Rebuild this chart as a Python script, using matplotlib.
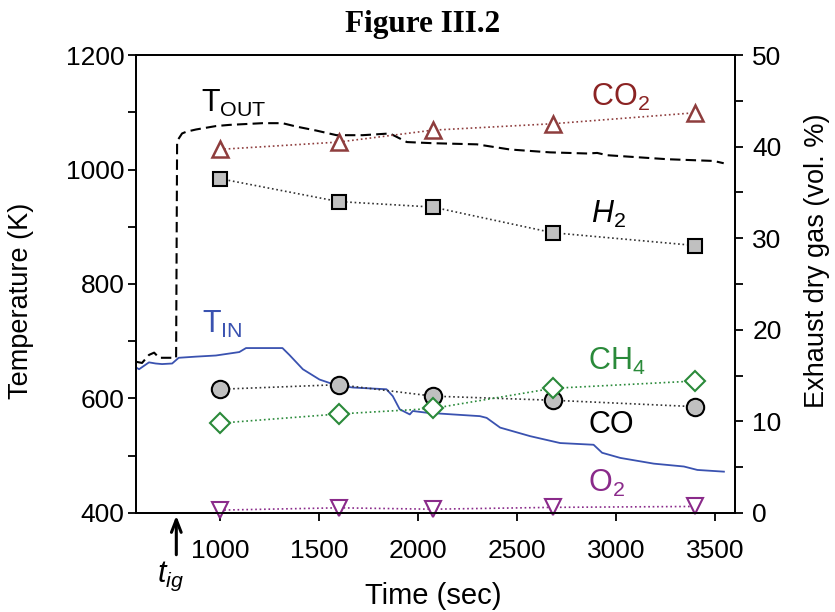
import matplotlib.pyplot as plt
from matplotlib.ticker import MultipleLocator

plt.rcParams["font.family"] = ["Liberation Sans", "DejaVu Sans"]
plt.rcParams["mathtext.fontset"] = "custom"
plt.rcParams["mathtext.it"] = "Liberation Sans:italic"
plt.rcParams["mathtext.rm"] = "Liberation Sans"

# temperature traces (K) vs time (sec)
t_out_time = [577, 607, 642, 668, 693, 769, 779, 784, 794, 809, 830, 880, 981,
              1048, 1215, 1316, 1387, 1488, 1589, 1721, 1858, 1893, 1944, 2075,
              2298, 2465, 2667, 2855, 2905, 2956, 3260, 3493, 3544]
t_out = [664, 662, 676, 680, 671, 671, 671, 1050, 1055, 1063, 1066, 1070, 1076,
         1078, 1081, 1081, 1075, 1068, 1060, 1060, 1063, 1057, 1048, 1046,
         1044, 1035, 1030, 1028, 1029, 1025, 1018, 1015, 1011]

t_in_time = [577, 592, 642, 676, 708, 759, 792, 879, 980, 1098, 1132, 1215,
             1316, 1351, 1419, 1503, 1588, 1672, 1841, 1873, 1908, 1959, 1974,
             2044, 2177, 2313, 2347, 2415, 2567, 2718, 2887, 2930, 3022, 3191,
             3343, 3411, 3545]
t_in = [654, 651, 663, 661, 660, 661, 671, 673, 675, 681, 688, 688,
        688, 676, 651, 633, 623, 619, 616, 604, 581, 572, 578,
        575, 572, 569, 566, 549, 534, 522, 519, 505, 496, 486,
        481, 475, 472]

# exhaust dry gas composition (vol. %)
sample_time = [1000, 1600, 2075, 2680, 3400]
co2 = [39.7, 40.5, 41.8, 42.5, 43.7]
h2 = [36.5, 34.0, 33.4, 30.6, 29.2]
co = [13.5, 14.0, 12.75, 12.3, 11.6]
ch4 = [9.8, 10.8, 11.4, 13.6, 14.4]
o2 = [0.3, 0.55, 0.4, 0.6, 0.7]

t_ignition = 780

RED = "#8b2323"
RED_M = "#8e3d3d"
GREEN = "#2a8a3a"
PURPLE = "#8a2a8a"
BLUE = "#3a52b0"
GREY = "#c0c0c0"

fig = plt.figure(figsize=(8.35, 6.12), dpi=100)
ax = fig.add_axes([0.163, 0.162, 0.717, 0.748])
ax2 = ax.twinx()

ax.plot(t_out_time, t_out, color="black", lw=1.5, dashes=(5, 2.5))
ax.plot(t_in_time, t_in, color=BLUE, lw=1.3)

ax2.plot(sample_time, co2, ":", color=RED_M, lw=1.2, marker="^", ms=12,
         mfc="white", mec=RED_M, mew=1.8, clip_on=False)
ax2.plot(sample_time, h2, ":", color="#333333", lw=1.2, marker="s", ms=10.5,
         mfc=GREY, mec="black", mew=1.5, clip_on=False)
ax2.plot(sample_time, co, ":", color="#333333", lw=1.2, marker="o", ms=12.5,
         mfc=GREY, mec="black", mew=1.5, clip_on=False)
ax2.plot(sample_time, ch4, ":", color=GREEN, lw=1.2, marker="D", ms=10,
         mfc="white", mec=GREEN, mew=1.5, clip_on=False)
ax2.plot(sample_time, o2, ":", color=PURPLE, lw=1.2, marker="v", ms=12,
         mfc="white", mec=PURPLE, mew=1.5, clip_on=False)

ax.set_xlim(577, 3600)
ax.set_ylim(400, 1200)
ax2.set_ylim(0, 50)

ax.xaxis.set_major_locator(MultipleLocator(500))
ax.yaxis.set_major_locator(MultipleLocator(200))
ax.yaxis.set_minor_locator(MultipleLocator(100))
ax2.yaxis.set_major_locator(MultipleLocator(10))
ax2.yaxis.set_minor_locator(MultipleLocator(5))

for a in (ax, ax2):
    a.tick_params(which="both", direction="out", length=5.5, width=1.3,
                  labelsize=19)
    for s in a.spines.values():
        s.set_linewidth(1.3)
ax.tick_params(axis="x", pad=13)
ax.tick_params(axis="y", pad=3)
ax2.tick_params(axis="y", pad=7)

ax.set_xlabel("Time (sec)", fontsize=21)
ax.set_ylabel("Temperature (K)", fontsize=19.5)
ax2.set_ylabel("Exhaust dry gas (vol. %)", fontsize=19.5)
ax.xaxis.set_label_coords(0.496, -0.15)
ax.yaxis.set_label_coords(-0.17, 0.463)
ax2.yaxis.set_label_coords(1.115, 0.55)

# curve labels
ax.text(907, 1100, r"T$_{\rm OUT}$", fontsize=22, color="black")
ax.text(912, 714, r"T$_{\rm IN}$", fontsize=22, color=BLUE)
ax2.text(2872, 44.5, r"CO$_2$", fontsize=22, color=RED)
ax2.text(2872, 31.7, r"$H_2$", fontsize=22, color="black")
ax2.text(2861, 15.6, r"CH$_4$", fontsize=22, color=GREEN)
ax2.text(2861, 8.7, "CO", fontsize=22, color="black")
ax2.text(2861, 2.3, r"O$_2$", fontsize=22, color=PURPLE)

# ignition marker
ax.annotate("", xy=(t_ignition, 400), xytext=(t_ignition, 322),
            arrowprops=dict(arrowstyle="->,head_length=0.9,head_width=0.35",
                            color="black", lw=2.2), annotation_clip=False)
ax.text(749, 318, r"$t_{ig}$", fontsize=22, ha="center", va="top",
        clip_on=False)

fig.text(0.506, 0.948, "Figure III.2", fontsize=22.5, fontweight="bold",
         family="Liberation Serif", ha="center", va="baseline")

fig.savefig("out.png", dpi=100)
